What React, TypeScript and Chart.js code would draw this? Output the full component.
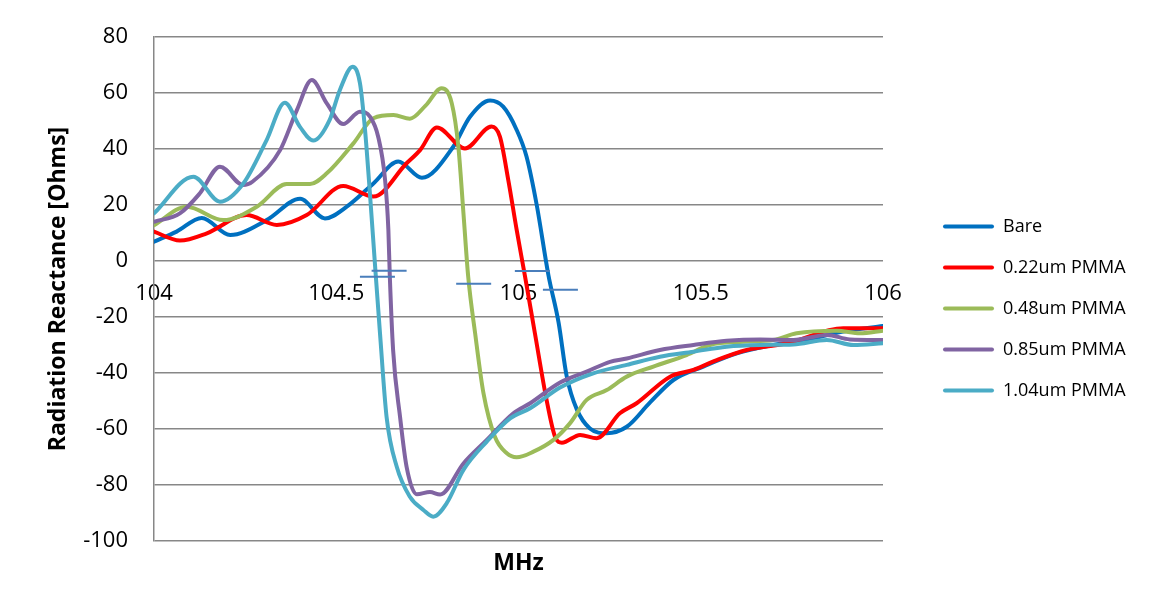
import React, { useEffect, useRef } from 'react';
import { Chart, registerables } from 'chart.js';

Chart.register(...registerables);

// ---- Data (MHz vs Radiation Reactance [Ohms]) ----
const bareX = [104.0, 104.062, 104.131, 104.209, 104.309, 104.401, 104.469, 104.529, 104.602, 104.67, 104.735, 104.821, 104.867, 104.922, 104.958, 104.995, 105.022, 105.05, 105.082, 105.11, 105.132, 105.16, 105.196, 105.242, 105.297, 105.361, 105.425, 105.507, 105.599, 105.699, 105.809, 105.891, 106.0];
const bareY = [6.9, 10.5, 15.4, 9.3, 14.6, 22.2, 15.2, 19.4, 27.7, 35.5, 29.7, 40.8, 51.5, 57.3, 55.1, 46.8, 37.3, 20.0, -5.0, -22.0, -41.0, -53.0, -59.8, -61.5, -59.2, -50.5, -42.5, -37.7, -33.0, -30.0, -27.6, -25.2, -23.2];

const pmma022X = [104.0, 104.071, 104.145, 104.254, 104.337, 104.419, 104.519, 104.602, 104.693, 104.73, 104.776, 104.853, 104.926, 104.949, 104.972, 104.995, 105.018, 105.045, 105.077, 105.1, 105.119, 105.169, 105.215, 105.278, 105.324, 105.416, 105.48, 105.544, 105.626, 105.736, 105.891, 105.964, 106.0];
const pmma022Y = [10.5, 7.3, 9.9, 16.4, 12.9, 16.4, 26.8, 23.0, 34.9, 39.6, 47.7, 40.2, 48.0, 44.4, 28.9, 11.1, -5.6, -25.8, -49.6, -62.7, -64.9, -62.1, -63.3, -54.4, -50.8, -41.3, -38.9, -35.4, -31.8, -29.4, -24.0, -24.0, -24.0];

const pmma048X = [104.0, 104.09, 104.19, 104.282, 104.364, 104.428, 104.474, 104.547, 104.602, 104.657, 104.702, 104.745, 104.789, 104.817, 104.835, 104.849, 104.862, 104.881, 104.904, 104.935, 104.968, 104.995, 105.041, 105.096, 105.141, 105.187, 105.242, 105.297, 105.37, 105.461, 105.525, 105.617, 105.699, 105.763, 105.873, 105.937, 106.0];
const pmma048Y = [12.8, 19.4, 14.6, 19.4, 27.5, 27.5, 31.3, 42.0, 51.0, 52.1, 50.8, 55.5, 61.7, 56.3, 40.8, 17.0, -5.6, -25.8, -47.3, -62.7, -68.7, -70.1, -68.1, -63.9, -58.0, -49.6, -46.1, -41.3, -37.7, -33.6, -30.0, -28.8, -28.2, -25.8, -24.9, -25.8, -24.9];

const pmma085X = [104.0, 104.071, 104.126, 104.181, 104.245, 104.27, 104.346, 104.392, 104.433, 104.474, 104.519, 104.565, 104.593, 104.615, 104.634, 104.643, 104.647, 104.656, 104.675, 104.693, 104.721, 104.757, 104.785, 104.849, 104.913, 104.986, 105.032, 105.114, 105.187, 105.251, 105.297, 105.388, 105.48, 105.571, 105.663, 105.754, 105.846, 105.909, 106.0];
const pmma085Y = [14.0, 17.0, 24.2, 33.7, 27.1, 28.3, 39.6, 53.9, 64.6, 56.3, 48.9, 53.3, 51.5, 44.4, 28.9, 11.1, -5.6, -31.8, -55.6, -73.5, -83.3, -82.5, -83.4, -72.3, -63.9, -54.4, -50.8, -43.4, -39.5, -36.0, -34.8, -31.8, -30.0, -28.5, -28.0, -28.2, -26.4, -28.0, -28.2];

const pmma104X = [104.0, 104.108, 104.181, 104.245, 104.309, 104.359, 104.4, 104.437, 104.482, 104.51, 104.545, 104.565, 104.579, 104.593, 104.606, 104.62, 104.638, 104.666, 104.702, 104.739, 104.766, 104.803, 104.849, 104.913, 104.977, 105.032, 105.114, 105.205, 105.297, 105.388, 105.48, 105.571, 105.663, 105.754, 105.846, 105.919, 106.0];
const pmma104Y = [17.0, 30.1, 21.2, 27.7, 43.2, 56.5, 48.0, 43.0, 50.4, 61.1, 69.4, 63.5, 46.8, 23.0, -0.8, -25.8, -55.6, -73.5, -84.2, -88.9, -91.3, -86.5, -74.6, -64.5, -56.2, -52.6, -45.2, -40.1, -37.1, -34.2, -32.4, -30.6, -30.0, -29.8, -28.2, -30.0, -29.4];

const markerX = [104.645, 104.613, 104.877, 105.038, 105.115];
const markerY = [-3.5, -5.6, -8.1, -3.6, -10.3];

const xTickValues = [104, 104.5, 105, 105.5, 106];
const seriesNames = ['Bare', '0.22um PMMA', '0.48um PMMA', '0.85um PMMA', '1.04um PMMA'];
const seriesColors = ['#0070C0', '#FF0000', '#9BBB59', '#8064A2', '#4BACC6'];
const seriesXs = [bareX, pmma022X, pmma048X, pmma085X, pmma104X];
const seriesYs = [bareY, pmma022Y, pmma048Y, pmma085Y, pmma104Y];

const toPoints = (xs: number[], ys: number[]) => xs.map((x, i) => ({ x, y: ys[i] }));

const FONT = "'Open Sans', 'Noto Sans', sans-serif";
const GRID = '#878787';

export default function App() {
  const canvasRef = useRef<HTMLCanvasElement | null>(null);

  useEffect(() => {
    if (!canvasRef.current) return;
    Chart.defaults.font.family = FONT;

    const lineSets = seriesNames.map((name, i) => ({
      label: name,
      data: toPoints(seriesXs[i], seriesYs[i]),
      borderColor: seriesColors[i],
      backgroundColor: seriesColors[i],
      borderWidth: 4,
      pointRadius: 0,
      pointHoverRadius: 0,
      cubicInterpolationMode: 'monotone' as const,
      fill: false,
      borderCapStyle: 'round' as const,
      borderJoinStyle: 'round' as const,
      order: 5 - i,
      xAxisID: 'x',
      yAxisID: 'y',
    }));

    const markerSet = {
      label: 'markers',
      data: toPoints(markerX, markerY),
      showLine: false,
      pointStyle: 'line' as const,
      pointRadius: 17.5,
      pointHoverRadius: 17.5,
      pointBorderWidth: 2,
      pointBorderColor: '#4A7EBB',
      pointBackgroundColor: '#4A7EBB',
      borderColor: '#4A7EBB',
      order: 0,
      xAxisID: 'x',
      yAxisID: 'y',
    };

    const chart = new Chart(canvasRef.current, {
      type: 'line',
      data: { datasets: [...lineSets, markerSet] as any },
      options: {
        responsive: false,
        animation: false,
        layout: { padding: { top: 29, left: 0, right: 12, bottom: 20 } },
        plugins: {
          tooltip: { enabled: false },
          legend: {
            display: true,
            position: 'right',
            align: 'center',
            maxWidth: 212,
            labels: {
              color: '#000',
              font: { family: FONT, size: 18 },
              boxWidth: 51,
              boxHeight: 4,
              padding: 23,
              filter: (item: any) => item.datasetIndex < seriesNames.length,
              sort: (a: any, b: any) => a.datasetIndex - b.datasetIndex,
              generateLabels: (c: any) => {
                const base = Chart.defaults.plugins.legend.labels.generateLabels(c);
                return base.map((it: any) => ({
                  ...it,
                  fillStyle: seriesColors[it.datasetIndex] || it.fillStyle,
                  strokeStyle: seriesColors[it.datasetIndex] || it.strokeStyle,
                  lineWidth: 0,
                  borderRadius: 2,
                }));
              },
            },
          },
        },
        scales: {
          x: {
            type: 'linear',
            position: { y: 0 } as any,
            min: 104,
            max: 106,
            afterBuildTicks: (s: any) => {
              s.ticks = xTickValues.map((v) => ({ value: v }));
            },
            ticks: {
              autoSkip: false,
              maxRotation: 0,
              padding: 20,
              color: '#000',
              font: { family: FONT, size: 22 },
              callback: (v: any) => String(v),
            },
            grid: { display: false, drawTicks: false },
            border: { display: false },
          },
          x2: {
            type: 'linear',
            position: 'bottom',
            min: 104,
            max: 106,
            ticks: { display: false },
            grid: { display: false, drawTicks: false },
            border: { display: false },
            title: {
              display: true,
              text: 'MHz',
              color: '#000',
              font: { family: FONT, size: 23, weight: 'bold' },
              padding: { top: 0, bottom: 3 },
            },
            afterFit: (s: any) => {
              s.height = 39;
            },
          },
          y: {
            type: 'linear',
            position: 'left',
            min: -100,
            max: 80,
            ticks: {
              stepSize: 20,
              padding: 3,
              color: '#000',
              font: { family: FONT, size: 22 },
            },
            grid: { color: GRID, lineWidth: 1.5, drawTicks: true, tickLength: 23, tickColor: 'rgba(0,0,0,0)' },
            border: { display: true, color: GRID, width: 1.5 },
            title: {
              display: true,
              text: 'Radiation Reactance [Ohms]',
              color: '#000',
              font: { family: FONT, size: 23, weight: 'bold' },
              padding: { top: 37, bottom: 0 },
            },
            afterFit: (s: any) => {
              s.width = 146;
            },
          },
          yr: {
            type: 'linear',
            position: 'right',
            ticks: { display: false },
            grid: { display: false, drawTicks: false },
            border: { display: false },
            afterFit: (s: any) => {
              s.width = 37;
            },
          },
        },
      } as any,
    });

    return () => chart.destroy();
  }, []);

  return (
    <div style={{ position: 'relative', width: 1136, height: 592 }}>
      <div
        style={{
          position: 'absolute',
          left: -1,
          top: -1,
          width: 1138,
          height: 594,
          borderLeft: '1px solid #888',
          borderTop: '1px solid #888',
          boxSizing: 'border-box',
          pointerEvents: 'none',
        }}
      />
      <canvas ref={canvasRef} width={1136} height={592} style={{ display: 'block' }} />
    </div>
  );
}
